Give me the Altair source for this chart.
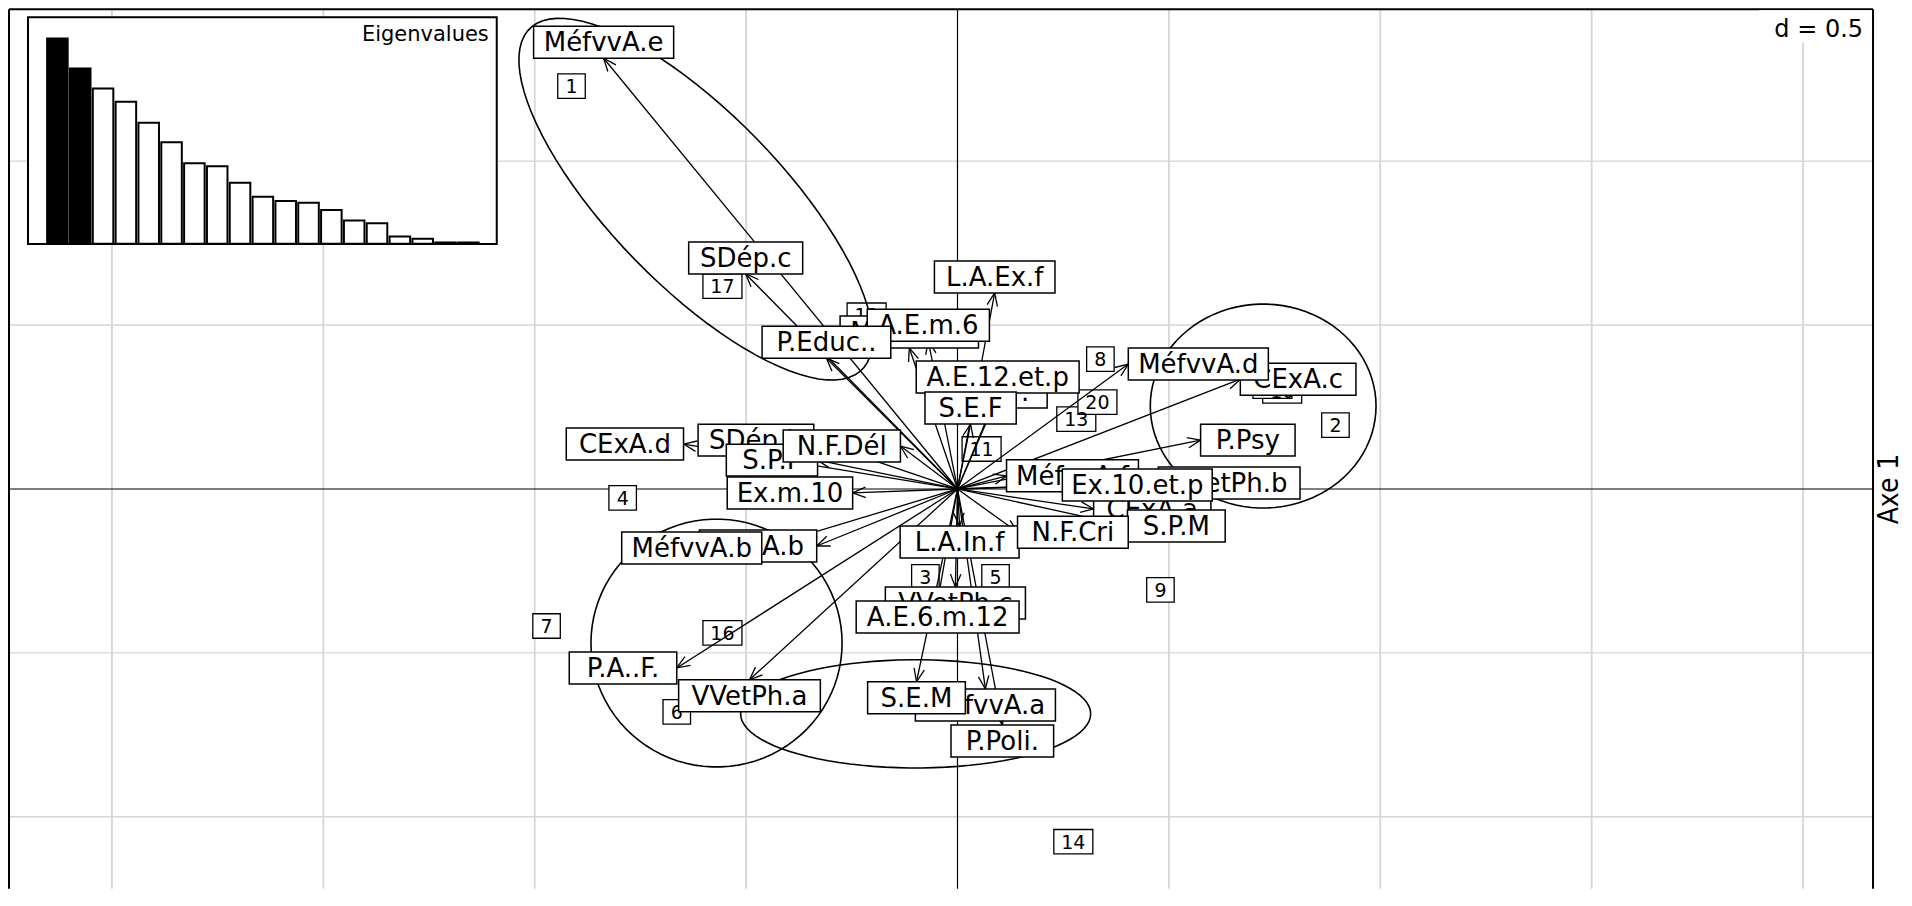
import math
import altair as alt
import pandas as pd

# ---------------- data ----------------
# category labels (arrow tips, drawing order = stacking order)
cat_labels = ["MéfvvA.c", "A.E.m.6", "P.Educ..", "MéfvvA.e", "SDép.c", "L.A.Ex.f",
              "P.A..P.", "A.E.12.et.p", "S.E.F", "SDép.b", "CExA.d", "S.P.F",
              "N.F.Dél", "Ex.m.10", "CExA.b", "MéfvvA.b", "L.A.In.f", "VVetPh.c",
              "A.E.6.m.12", "MéfvvA.a", "S.E.M", "P.Poli.", "P.A..F.", "VVetPh.a",
              "CExA.c", "MéfvvA.d", "P.Psy", "MéfvvA.f", "VVetPh.b", "CExA.a",
              "Ex.10.et.p", "S.P.M", "N.F.Cri"]
cat_x = [-0.114, -0.069, -0.310, -0.837, -0.501, 0.088, 0.083, 0.095, 0.031, -0.340,
         -0.648, -0.331, -0.135, -0.248, -0.333, -0.463, 0.005, -0.005, -0.047, 0.066,
         -0.097, 0.106, -0.664, -0.492, 0.669, 0.404, 0.575, 0.116, 0.475, 0.322,
         0.248, 0.402, 0.142]
cat_y = [0.430, 0.451, 0.399, 1.314, 0.656, 0.598, 0.247, 0.293, 0.198, 0.149,
         0.137, 0.088, 0.131, -0.012, -0.174, -0.180, -0.113, -0.299, -0.342, -0.610,
         -0.588, -0.720, -0.546, -0.582, 0.335, 0.381, 0.149, 0.040, 0.018, -0.061,
         0.012, -0.113, -0.132]

# individuals
ind_labels = [str(i) for i in range(1, 21)]
ind_x = [-0.913, 0.894, -0.076, -0.792, 0.090, -0.664, -0.972, 0.338, 0.480, 0.768,
         0.057, -0.215, 0.281, 0.274, 0.745, -0.556, -0.556, 0.433, -0.040, 0.331]
ind_y = [1.229, 0.195, -0.268, -0.027, -0.268, -0.680, -0.418, 0.396, -0.308, 0.299,
         0.122, 0.530, 0.213, -1.076, 0.314, -0.439, 0.619, 0.006, -0.378, 0.265]

# eigenvalues (inset)
eig_values = [0.370, 0.316, 0.280, 0.256, 0.218, 0.183, 0.145, 0.140, 0.110, 0.085,
              0.077, 0.074, 0.061, 0.042, 0.037, 0.013, 0.009, 0.0024, 0.0024]
n_kept = 2

# ellipses: centre, semi-axes, rotation (degrees)
ell_cx = [-0.619, 0.723, -0.570, -0.099]
ell_cy = [0.884, 0.253, -0.470, -0.686]
ell_a = [0.655, 0.267, 0.297, 0.414]
ell_b = [0.225, 0.311, 0.378, 0.165]
ell_angle = [-55, 0, 0, 0]

grid_x = [-2, -1.5, -1, -0.5, 0.5, 1, 1.5, 2]
grid_y = [-1, -0.5, 0.5, 1]

# ---------------- layout ----------------
W, H = 1865, 880
X_DOMAIN = [-2.2435, 2.1655]
Y_DOMAIN = [-1.21951, 1.46341]
PX = W / (X_DOMAIN[1] - X_DOMAIN[0])
PY = H / (Y_DOMAIN[1] - Y_DOMAIN[0])
FONT = "DejaVu Sans"
GRID = "#d6d6d6"

ARIAL = {' ': 278, '.': 278, '=': 584, 'A': 667, 'C': 722, 'D': 722, 'E': 667, 'F': 611,
         'L': 556, 'M': 833, 'N': 722, 'P': 667, 'S': 667, 'V': 667, 'a': 556, 'b': 556,
         'c': 500, 'd': 556, 'e': 556, 'f': 278, 'h': 556, 'i': 222, 'l': 222, 'm': 833,
         'n': 556, 'o': 556, 'p': 556, 'r': 333, 's': 500, 't': 278, 'u': 556, 'v': 500,
         'x': 500, 'y': 500, 'é': 556}


def em(s):
    return sum(ARIAL.get(c, 556) for c in s) / 1000.0


LAB_EM, LAB_PAD, LAB_H = 29.3, 18, 32
NUM_EM, NUM_PAD, NUM_H = 20.7, 16, 24.5

xs = alt.Scale(domain=X_DOMAIN, nice=False, zero=False)
ys = alt.Scale(domain=Y_DOMAIN, nice=False, zero=False)
XQ = lambda f: alt.X(f, scale=xs, axis=None)
YQ = lambda f: alt.Y(f, scale=ys, axis=None)

# ---- label boxes placed like ade4 scatterutil.eti.circ ----
rows = []
for i, (lab, x, y) in enumerate(zip(cat_labels, cat_x, cat_y)):
    hw = (em(lab) * LAB_EM + LAB_PAD) / 2 / PX
    hh = LAB_H / 2 / PY
    if x > y and x > -y:
        cx, cy = x + hw, y
    elif x > y and x <= -y:
        cx, cy = x, y - hh
    elif x <= y and x <= -y:
        cx, cy = x - hw, y
    else:
        cx, cy = x, y + hh
    rows.append(dict(idx=i, lab=lab, cx=cx, cy=cy, x0=cx - hw, x1=cx + hw,
                     y0=cy - hh, y1=cy + hh))
lab_df = pd.DataFrame(rows)

# ---- arrows ----
HEAD_LEN, HEAD_ANG = 14, 22
segs = []
for x, y in zip(cat_x, cat_y):
    segs.append(dict(x=0.0, y=0.0, x2=x, y2=y))
    px, py = x * PX, y * PY
    L = math.hypot(px, py)
    ux, uy = px / L, py / L
    for s in (1, -1):
        a = math.radians(HEAD_ANG) * s
        bx = -(ux * math.cos(a) - uy * math.sin(a))
        by = -(ux * math.sin(a) + uy * math.cos(a))
        segs.append(dict(x=x, y=y, x2=x + HEAD_LEN * bx / PX, y2=y + HEAD_LEN * by / PY))
seg_df = pd.DataFrame(segs)

# ---- individuals ----
num_df = pd.DataFrame({"lab": ind_labels, "x": ind_x, "y": ind_y})
num_hw = (num_df["lab"].map(em) * NUM_EM + NUM_PAD) / 2 / PX
num_df["x0"] = num_df["x"] - num_hw
num_df["x1"] = num_df["x"] + num_hw
num_df["y0"] = num_df["y"] - NUM_H / 2 / PY
num_df["y1"] = num_df["y"] + NUM_H / 2 / PY

ell_df = pd.DataFrame({"g": range(len(ell_cx)), "cx": ell_cx, "cy": ell_cy,
                       "a": ell_a, "b": ell_b, "ang": ell_angle})
eig_df = pd.DataFrame({"i": range(1, len(eig_values) + 1), "e": eig_values})
one = pd.DataFrame({"k": [0]})

grid_v = alt.Chart(pd.DataFrame({"v": grid_x})).mark_rule(color=GRID, strokeWidth=1.8).encode(
    x=XQ("v:Q"))
grid_h = alt.Chart(pd.DataFrame({"v": grid_y})).mark_rule(color=GRID, strokeWidth=1.4).encode(
    y=YQ("v:Q"))
zero_v = alt.Chart(pd.DataFrame({"v": [0.0]})).mark_rule(color="black", strokeWidth=1.2).encode(
    x=XQ("v:Q"))
zero_h = alt.Chart(pd.DataFrame({"v": [0.0]})).mark_rule(color="black", strokeWidth=1.2).encode(
    y=YQ("v:Q"))

num_box = alt.Chart(num_df).mark_rect(fill="white", stroke="black", strokeWidth=1.3).encode(
    x=XQ("x0:Q"), x2="x1:Q", y=YQ("y0:Q"), y2="y1:Q")
num_txt = alt.Chart(num_df).mark_text(font=FONT, fontSize=19, baseline="middle", dy=1,
                                      color="black").encode(
    x=XQ("x:Q"), y=YQ("y:Q"), text="lab:N")

ellipses = alt.Chart(ell_df).transform_calculate(
    t="sequence(0, 364, 4)").transform_flatten(["t"]).transform_calculate(
    ex="datum.cx + datum.a*cos(datum.t*PI/180)*cos(datum.ang*PI/180) - datum.b*sin(datum.t*PI/180)*sin(datum.ang*PI/180)",
    ey="datum.cy + datum.a*cos(datum.t*PI/180)*sin(datum.ang*PI/180) + datum.b*sin(datum.t*PI/180)*cos(datum.ang*PI/180)",
).mark_line(color="black", strokeWidth=1.6).encode(
    x=XQ("ex:Q"), y=YQ("ey:Q"), detail="g:N", order="t:Q")

arrows = alt.Chart(seg_df).mark_rule(color="black", strokeWidth=1.3).encode(
    x=XQ("x:Q"), y=YQ("y:Q"), x2="x2:Q", y2="y2:Q")

label_layers = []
for i in range(len(lab_df)):
    box = alt.Chart(lab_df).transform_filter(alt.datum.idx == i).mark_rect(
        fill="white", stroke="black", strokeWidth=1.5).encode(
        x=XQ("x0:Q"), x2="x1:Q", y=YQ("y0:Q"), y2="y1:Q")
    txt = alt.Chart(lab_df).transform_filter(alt.datum.idx == i).mark_text(
        font=FONT, fontSize=26, baseline="middle", dy=1, color="black").encode(
        x=XQ("cx:Q"), y=YQ("cy:Q"), text="lab:N")
    label_layers += [box, txt]

frame_l = alt.Chart(one).mark_rule(color="black", strokeWidth=2).encode(
    x=alt.value(0), y=alt.value(0), y2=alt.value(H))
frame_t = alt.Chart(one).mark_rule(color="black", strokeWidth=2).encode(
    x=alt.value(0), x2=alt.value(W), y=alt.value(0))
frame_r = alt.Chart(one).mark_rule(color="black", strokeWidth=2).encode(
    x=alt.value(W), y=alt.value(0), y2=alt.value(H))

main = alt.layer(grid_v, grid_h, zero_v, zero_h, num_box, num_txt, ellipses, arrows,
                 *label_layers, frame_l, frame_t, frame_r)

# ---- eigenvalue inset ----
inset_frame = alt.Chart(one).mark_rect(fill="white", stroke="black", strokeWidth=2).encode(
    x=alt.value(19), x2=alt.value(488), y=alt.value(8), y2=alt.value(235))
inset_bars = alt.Chart(eig_df).transform_calculate(
    lo="datum.i - 0.45", hi="datum.i + 0.45", z="0",
    sel=f"datum.i <= {n_kept} ? 'kept' : 'other'").mark_rect(
    stroke="black", strokeWidth=2).encode(
    x=alt.X("lo:Q", scale=alt.Scale(domain=[0.5, len(eig_values) + 0.5], range=[37, 471]),
            axis=None),
    x2="hi:Q",
    y=alt.Y("e:Q", scale=alt.Scale(domain=[0, eig_values[0] * 226.7 / 205.4],
                                   range=[234.7, 8]), axis=None),
    y2="z:Q",
    fill=alt.Color("sel:N", scale=alt.Scale(domain=["kept", "other"],
                                            range=["black", "white"]), legend=None))
inset_txt = alt.Chart(one).mark_text(text="Eigenvalues", font=FONT, fontSize=21,
                                     align="right", baseline="middle").encode(
    x=alt.value(480), y=alt.value(26))
inset = alt.layer(inset_frame, inset_bars, inset_txt)

d_box = alt.Chart(one).mark_rect(fill="white").encode(
    x=alt.value(W - 114), x2=alt.value(W - 1), y=alt.value(1), y2=alt.value(33))
d_txt = alt.Chart(one).mark_text(text="d = 0.5", font=FONT, fontSize=24, align="right",
                                 baseline="middle").encode(
    x=alt.value(W - 10), y=alt.value(21))
axe_txt = alt.Chart(one).mark_text(text="Axe 1",
                                   font="Liberation Sans Narrow, DejaVu Sans Condensed, Liberation Sans",
                                   fontSize=28, angle=270, align="center",
                                   baseline="middle").encode(
    x=alt.value(W + 17), y=alt.value(480))

chart = alt.layer(main, inset, d_box, d_txt, axe_txt).resolve_scale(
    x="independent", y="independent").properties(
    width=W, height=H, padding=0, background="white").configure_view(stroke=None)

chart.save("out.html", embed_options={"renderer": "svg", "actions": False})
